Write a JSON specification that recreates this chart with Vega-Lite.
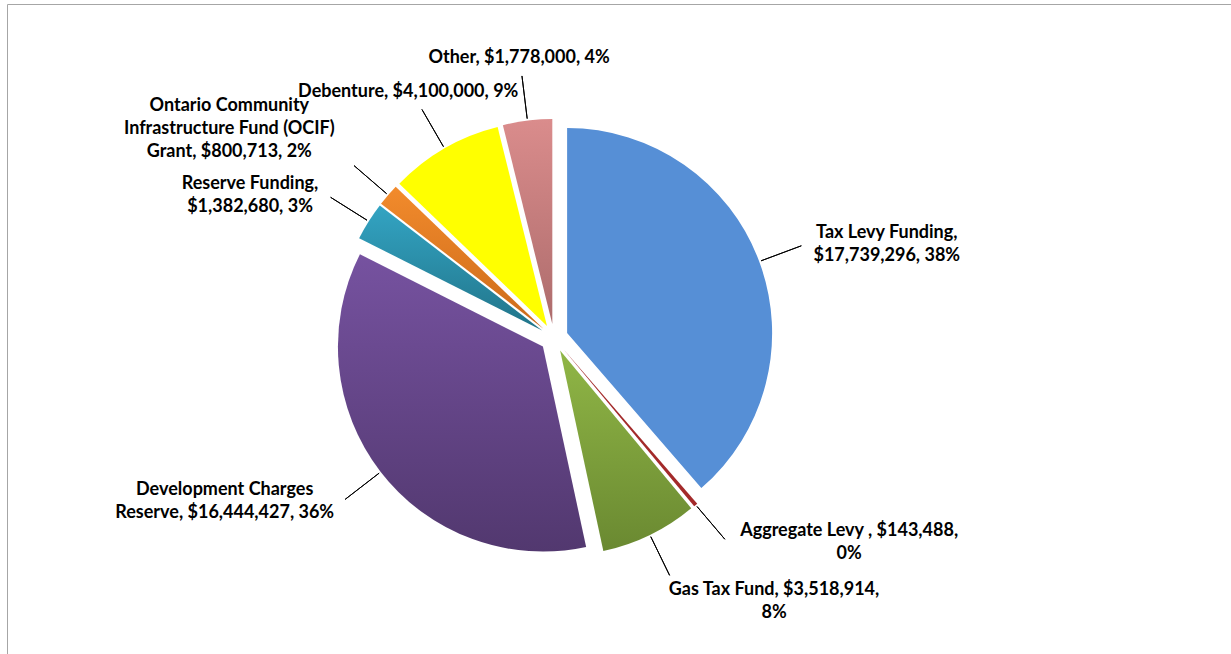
{
  "$schema": "https://vega.github.io/schema/vega-lite/v6.json",
  "width": 1224,
  "height": 650,
  "autosize": {"type": "none"},
  "padding": {"left": 7, "top": 4, "right": 0, "bottom": 0},
  "background": "white",
  "view": {"stroke": "#A6A6A6", "strokeWidth": 1},
  "data": {
    "values": [
      {"order": 1, "category": "Tax Levy Funding", "value": 17739296, "label": "Tax Levy Funding,\n$17,739,296, 38%"},
      {"order": 2, "category": "Aggregate Levy", "value": 143488, "label": "Aggregate Levy , $143,488,\n0%"},
      {"order": 3, "category": "Gas Tax Fund", "value": 3518914, "label": "Gas Tax Fund, $3,518,914,\n8%"},
      {"order": 4, "category": "Development Charges Reserve", "value": 16444427, "label": "Development Charges\nReserve, $16,444,427, 36%"},
      {"order": 5, "category": "Reserve Funding", "value": 1382680, "label": "Reserve Funding,\n$1,382,680, 3%"},
      {"order": 6, "category": "Ontario Community Infrastructure Fund (OCIF) Grant", "value": 800713, "label": "Ontario Community\nInfrastructure Fund (OCIF)\nGrant, $800,713, 2%"},
      {"order": 7, "category": "Debenture", "value": 4100000, "label": "Debenture, $4,100,000, 9%"},
      {"order": 8, "category": "Other", "value": 1778000, "label": "Other, $1,778,000, 4%"}
    ]
  },
  "transform": [
    {"stack": "value", "groupby": [], "sort": [{"field": "order", "order": "ascending"}], "as": ["v0", "v1"]},
    {"joinaggregate": [{"op": "sum", "field": "value", "as": "total"}]}
  ],
  "layer": [
    {
      "mark": {
        "type": "arc",
        "radius": 205,
        "xOffset": {"expr": "-65 + 14*sin(PI*(datum.v0+datum.v1)/datum.total)"},
        "yOffset": {"expr": "9 - 14*cos(PI*(datum.v0+datum.v1)/datum.total)"}
      },
      "encoding": {
        "theta": {"field": "v1", "type": "quantitative", "scale": {"nice": false, "zero": true}},
        "theta2": {"field": "v0"},
        "color": {
          "field": "category",
          "type": "nominal",
          "scale": {
            "domain": ["Tax Levy Funding", "Aggregate Levy", "Gas Tax Fund", "Development Charges Reserve", "Reserve Funding", "Ontario Community Infrastructure Fund (OCIF) Grant", "Debenture", "Other"],
            "range": ["#568FD6", "#A32A2A", "#7FA33C", "#634789", "#2C8EAA", "#E57F26", "#FFFF00", "#C97B7B"]
          },
          "legend": null,
          "condition": [
            {"test": "datum.category === 'Gas Tax Fund'", "value": {"gradient": "linear", "x1": 0, "y1": 0, "x2": 0, "y2": 1, "stops": [{"offset": 0, "color": "#90B646"}, {"offset": 1, "color": "#6A8931"}]}},
            {"test": "datum.category === 'Development Charges Reserve'", "value": {"gradient": "linear", "x1": 0, "y1": 0, "x2": 0, "y2": 1, "stops": [{"offset": 0, "color": "#7652A0"}, {"offset": 1, "color": "#52386F"}]}},
            {"test": "datum.category === 'Reserve Funding'", "value": {"gradient": "linear", "x1": 0, "y1": 0, "x2": 0, "y2": 1, "stops": [{"offset": 0, "color": "#33A4C3"}, {"offset": 1, "color": "#217489"}]}},
            {"test": "datum.category === 'Ontario Community Infrastructure Fund (OCIF) Grant'", "value": {"gradient": "linear", "x1": 0, "y1": 0, "x2": 0, "y2": 1, "stops": [{"offset": 0, "color": "#F28B2C"}, {"offset": 1, "color": "#CC6A1A"}]}},
            {"test": "datum.category === 'Other'", "value": {"gradient": "linear", "x1": 0, "y1": 0, "x2": 0, "y2": 1, "stops": [{"offset": 0, "color": "#DA8C8C"}, {"offset": 1, "color": "#AD6C6C"}]}}
          ]
        }
      }
    },
    {
      "mark": {
        "type": "arc",
        "filled": false,
        "stroke": "#000000",
        "strokeWidth": 1,
        "radius": 264,
        "radius2": 221,
        "thetaOffset": {"expr": "-PI*(datum.v1-datum.v0)/datum.total"},
        "theta2Offset": {"expr": "-PI*(datum.v1-datum.v0)/datum.total"},
        "xOffset": -65,
        "yOffset": 9
      },
      "encoding": {
        "theta": {"field": "v1", "type": "quantitative", "scale": {"nice": false, "zero": true}},
        "theta2": {"field": "v1"}
      }
    },
    {
      "mark": {
        "type": "text",
        "radius": 268,
        "font": "Lato",
        "fontWeight": "bold",
        "fontSize": 18,
        "lineHeight": 23,
        "lineBreak": "\n",
        "color": "#000000",
        "xOffset": -65,
        "yOffset": 9,
        "thetaOffset": {"expr": "-PI*(datum.v1-datum.v0)/datum.total"},
        "align": "center",
        "baseline": "middle",
        "dx": {"expr": "(cos(PI*(datum.v0+datum.v1)/datum.total) > 0.8 ? 0.1 : 1)*clamp(2*sin(PI*(datum.v0+datum.v1)/datum.total),-1,1)*(6 + 4.45*max(length(split(datum.label,'\\n')[0]), length(split(datum.label,'\\n')[1]||''), length(split(datum.label,'\\n')[2]||'')))"},
        "dy": {"expr": "(cos(PI*(datum.v0+datum.v1)/datum.total) > 0.8 ? -((length(split(datum.label,'\\n'))-1)*11.5 + 14) : (cos(PI*(datum.v0+datum.v1)/datum.total) > 0.6 ? -((length(split(datum.label,'\\n'))-1)*11.5 + 11) : (cos(PI*(datum.v0+datum.v1)/datum.total) < -0.85 ? ((length(split(datum.label,'\\n'))-1)*11.5 + 11) : 0))) - (length(split(datum.label,'\\n'))-1)*11.5"}
      },
      "encoding": {
        "theta": {"field": "v1", "type": "quantitative", "scale": {"nice": false, "zero": true}},
        "text": {"field": "label", "type": "nominal"}
      }
    }
  ]
}
